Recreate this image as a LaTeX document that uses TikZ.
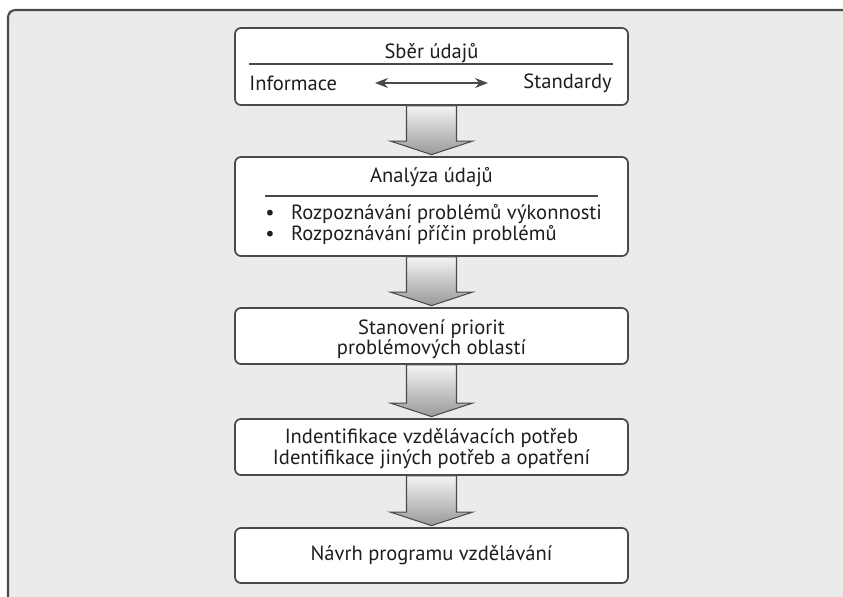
\documentclass[tikz,border=0pt]{standalone}
\usepackage{fontspec}
\setmainfont{PT Sans}
\usetikzlibrary{calc,arrows.meta}
\definecolor{framegray}{HTML}{EBEBEB}
\definecolor{edgegray}{HTML}{4A4A4A}
\definecolor{textgray}{HTML}{1E1E1E}
\tikzset{
	krok/.style={draw=edgegray, line width=1pt, rounded corners=0.12cm, fill=white, minimum width=7.86cm, inner sep=0pt},
	popis/.style={text=textgray, font=\fontsize{11.7}{11.7}\selectfont, inner sep=0pt},
	delic/.style={draw=edgegray, line width=0.7pt},
	sipka/.style={draw=edgegray, line width=0.6pt, top color=gray!8, bottom color=gray!80},
}
% block arrow from the bottom of one box to the top of the next
\newcommand{\blokovasipka}[2]{%
	\draw[sipka] ($(#1.south)+(-0.50,0)$) -- ($(#2.north)+(-0.50,0.30)$) -- ($(#2.north)+(-0.82,0.30)$)
		-- ($(#2.north)+(0,0.03)$) -- ($(#2.north)+(0.82,0.30)$) -- ($(#2.north)+(0.50,0.30)$)
		-- ($(#1.south)+(0.50,0)$) -- cycle;}
\begin{document}
\begin{tikzpicture}
	\useasboundingbox (0,0) rectangle (16.86,-11.92);
	\clip (0,0) rectangle (16.86,-11.92);
	\fill[white] (0,0) rectangle (16.86,-11.92);
	\fill[framegray] (0.16,-0.20) rectangle (17.20,-12.30);
	\draw[draw=edgegray, line width=1.2pt, rounded corners=0.15cm] (0.16,-12.30) -- (0.16,-0.20) -- (17.20,-0.20);
	% boxes
	\node[krok, minimum height=1.54cm] (sber) at (8.63,-1.33) {};
	\node[krok, minimum height=1.98cm] (analyza) at (8.63,-4.13) {};
	\node[krok, minimum height=1.12cm] (priority) at (8.63,-6.72) {};
	\node[krok, minimum height=1.12cm] (potreby) at (8.63,-8.94) {};
	\node[krok, minimum height=1.10cm] (navrh) at (8.63,-11.11) {};
	% texts
	\node[popis] (sbertitul) at (8.63,-1.06) {Sběr údajů};
	\draw[delic] (4.98,-1.28) -- (12.26,-1.28);
	\node[popis, anchor=west] (informace) at (4.98,-1.66) {Informace};
	\node[popis, anchor=east] (standardy) at (12.24,-1.66) {Standardy};
	\coordinate (obousmerL) at (7.50,-1.66);
	\coordinate (obousmerP) at (9.76,-1.66);
	\draw[edgegray, line width=0.6pt, {Stealth[length=2.6mm,width=2mm]}-{Stealth[length=2.6mm,width=2mm]}] (obousmerL) -- (obousmerP);
	\node[popis] (analyzatitul) at (8.63,-3.54) {Analýza údajů};
	\draw[delic] (5.30,-3.92) -- (11.96,-3.92);
	\node[popis, anchor=west, align=left, font=\fontsize{11.7}{9.8}\selectfont] (body) at (5.30,-4.49)
		{\textbullet\hspace{0.8em}Rozpoznávání problémů výkonnosti\\\textbullet\hspace{0.8em}Rozpoznávání příčin problémů};
	\node[popis, align=center, font=\fontsize{11.7}{11.4}\selectfont] (prioritytext) at (8.63,-6.78) {Stanovení priorit\\problémových oblastí};
	\node[popis, align=center, font=\fontsize{11.7}{10.4}\selectfont] (potrebytext) at (8.63,-8.98) {Indentifikace vzdělávacích potřeb\\Identifikace jiných potřeb a opatření};
	\node[popis] (navrhtext) at (8.63,-11.10) {Návrh programu vzdělávání};
	% arrows between the boxes
	\blokovasipka{sber}{analyza}
	\blokovasipka{analyza}{priority}
	\blokovasipka{priority}{potreby}
	\blokovasipka{potreby}{navrh}
\end{tikzpicture}
\end{document}
